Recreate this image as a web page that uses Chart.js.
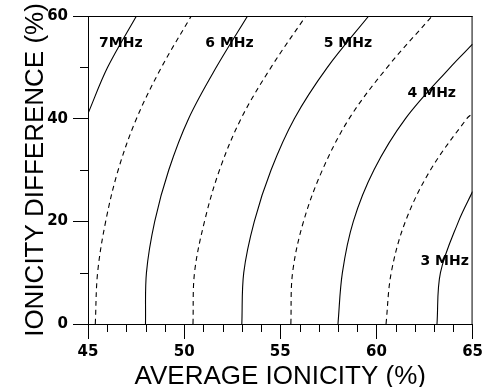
<!DOCTYPE html>
<html><head><meta charset="utf-8">
<script src="https://cdn.jsdelivr.net/npm/chart.js@4.4.0/dist/chart.umd.min.js"></script>
<style>html,body{margin:0;padding:0;background:#fff;}</style>
</head><body>
<canvas id="c" width="487" height="387"></canvas>
<script>
// ---- data ----
const yLevels = [0, 10, 20, 30, 40, 50, 60];           // ionicity difference (%)
const xMajorTicks = [45, 50, 55, 60, 65];
const yMajorTicks = [0, 20, 40, 60];
const yMinorTicks = [10, 30, 50];

// contour curves: average ionicity (%) at each y level
const mhz7_x  = [45.0, 46.02, 47.52];          const mhz7_y  = [41, 50, 60];
const mhz65_x = [45.38, 45.50, 45.92, 46.57, 47.52, 48.82, 50.37];
const mhz6_x  = [47.99, 48.04, 48.47, 49.20, 50.23, 51.67, 53.30];
const mhz55_x = [50.46, 50.54, 51.06, 51.84, 52.96, 54.52, 56.33];
const mhz5_x  = [53.00, 53.10, 53.65, 54.52, 55.73, 57.45, 59.60];
const mhz45_x = [55.55, 55.64, 56.21, 57.19, 58.58, 60.56, 62.90];
const mhz4_x  = [58.00, 58.23, 58.80, 59.87, 61.51, 63.84, 65.0]; const mhz4_y  = [0, 10, 20, 30, 40, 50, 54.5];
const mhz35_x = [60.50, 60.77, 61.51, 62.81, 64.70, 65.0];        const mhz35_y = [0, 10, 20, 30, 40, 41];
const mhz3_x  = [63.15, 63.33, 64.27, 65.0];                      const mhz3_y  = [0, 10, 20, 25.8];

// contour labels
const labelText = ['7MHz', '6 MHz', '5 MHz', '4 MHz', '3 MHz'];
const labelX = [46.71, 52.36, 58.52, 62.88, 63.55];
const labelY = [54.7, 54.7, 54.7, 45.0, 12.3];

// ---- build datasets ----
function pts(xs, ys) { return xs.map((x, i) => ({x: x, y: ys[i]})); }
const curves = [
  {d: pts(mhz7_x, mhz7_y), dash: []},
  {d: pts(mhz65_x, yLevels), dash: [5, 4]},
  {d: pts(mhz6_x, yLevels), dash: []},
  {d: pts(mhz55_x, yLevels), dash: [5, 4]},
  {d: pts(mhz5_x, yLevels), dash: []},
  {d: pts(mhz45_x, yLevels), dash: [5, 4]},
  {d: pts(mhz4_x, mhz4_y), dash: []},
  {d: pts(mhz35_x, mhz35_y), dash: [5, 4]},
  {d: pts(mhz3_x, mhz3_y), dash: []},
];
const datasets = curves.map(c => ({
  data: c.d, borderColor: '#000', borderWidth: 1.1, borderDash: c.dash,
  pointRadius: 0, tension: 0.35, fill: false
}));

const framePlugin = {
  id: 'frame',
  afterDraw(chart) {
    const ctx = chart.ctx, a = chart.chartArea;
    const xs = chart.scales.x, ys = chart.scales.y;
    ctx.save();
    ctx.strokeStyle = '#000'; ctx.lineWidth = 1;
    ctx.beginPath();
    ctx.moveTo(a.left, a.top + 0.5); ctx.lineTo(a.right, a.top + 0.5);
    ctx.moveTo(a.right - 0.5, a.top); ctx.lineTo(a.right - 0.5, a.bottom);
    // minor x ticks every 1 unit
    for (let v = xMajorTicks[0]; v <= xMajorTicks[xMajorTicks.length - 1]; v++) {
      if (xMajorTicks.includes(v)) continue;
      const px = Math.round(xs.getPixelForValue(v)) + 0.5;
      ctx.moveTo(px, a.bottom); ctx.lineTo(px, a.bottom + 8);
    }
    yMinorTicks.forEach(v => {
      const py = Math.round(ys.getPixelForValue(v)) + 0.5;
      ctx.moveTo(a.left - 8, py); ctx.lineTo(a.left, py);
    });
    ctx.stroke();
    // contour labels
    ctx.fillStyle = '#000';
    ctx.font = 'bold 14px "DejaVu Sans"';
    ctx.textAlign = 'center'; ctx.textBaseline = 'middle';
    labelText.forEach((t, i) => {
      ctx.fillText(t, xs.getPixelForValue(labelX[i]), ys.getPixelForValue(labelY[i]));
    });
    ctx.restore();
  }
};

const tickFont = {family: 'DejaVu Sans', weight: 'bold', size: 15};
const titleFont = {family: 'Liberation Sans', weight: 'normal', size: 26, lineHeight: 0.8};

new Chart(document.getElementById('c'), {
  type: 'line',
  data: {datasets: datasets},
  options: {
    responsive: false, animation: false, devicePixelRatio: 1,
    layout: {padding: {top: 16, right: 13, left: 0, bottom: 0}},
    plugins: {legend: {display: false}, tooltip: {enabled: false}},
    scales: {
      x: {
        type: 'linear', min: 45, max: 65,
        afterFit(s) { s.height = 63; },
        afterBuildTicks(s) { s.ticks = xMajorTicks.map(v => ({value: v})); },
        ticks: {color: '#000', font: tickFont, padding: 4, maxRotation: 0},
        grid: {drawOnChartArea: false, drawTicks: true, tickLength: 15, color: '#000', lineWidth: 1},
        border: {display: true, color: '#000', width: 1},
        title: {display: true, text: 'AVERAGE IONICITY (%)', color: '#000', font: titleFont, padding: {top: 0, bottom: 0}}
      },
      y: {
        type: 'linear', min: 0, max: 60,
        afterFit(s) { s.width = 88; },
        afterBuildTicks(s) { s.ticks = yMajorTicks.map(v => ({value: v})); },
        ticks: {color: '#000', font: tickFont, padding: 5},
        grid: {drawOnChartArea: false, drawTicks: true, tickLength: 15, color: '#000', lineWidth: 1},
        border: {display: true, color: '#000', width: 1},
        title: {display: true, text: 'IONICITY DIFFERENCE (%)', color: '#000', font: titleFont, padding: {top: 25, bottom: 0}}
      }
    }
  },
  plugins: [framePlugin]
});
</script>
</body></html>
